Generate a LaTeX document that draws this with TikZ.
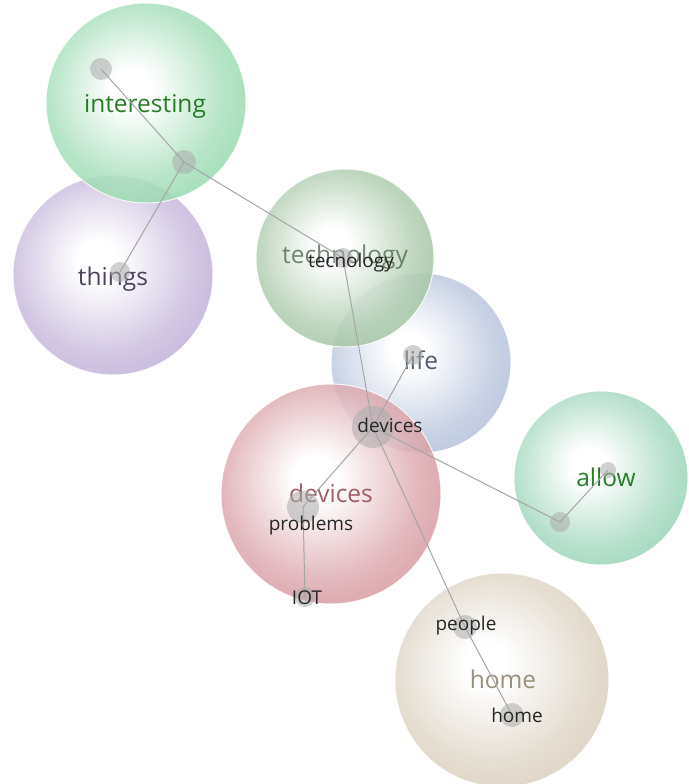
\documentclass[tikz,border=0pt]{standalone}
\usepackage{fontspec}
\setmainfont{Open Sans}
\definecolor{cInt}{HTML}{72CC92}
\definecolor{cThi}{HTML}{AA94CA}
\definecolor{cTec}{HTML}{82B082}
\definecolor{cLif}{HTML}{98AACE}
\definecolor{cDev}{HTML}{C8767F}
\definecolor{cAll}{HTML}{74C49E}
\definecolor{cHom}{HTML}{CDBEA6}
\colorlet{cIntM}{cInt!60!white}
\colorlet{cThiM}{cThi!60!white}
\colorlet{cTecM}{cTec!60!white}
\colorlet{cLifM}{cLif!60!white}
\colorlet{cDevM}{cDev!60!white}
\colorlet{cAllM}{cAll!60!white}
\colorlet{cHomM}{cHom!60!white}
\colorlet{cIntE}{cInt!92!black}
\colorlet{cThiE}{cThi!92!black}
\colorlet{cTecE}{cTec!92!black}
\colorlet{cLifE}{cLif!92!black}
\colorlet{cDevE}{cDev!92!black}
\colorlet{cAllE}{cAll!92!black}
\colorlet{cHomE}{cHom!92!black}
\newcommand\mksph[1]{%
  \pgfdeclareradialshading{sph#1}{\pgfpoint{-4bp}{4bp}}{color(0bp)=(white); color(5bp)=(white); color(22bp)=(#1M); color(41bp)=(#1); color(51bp)=(#1E); color(60bp)=(#1E)}}
\mksph{cInt}\mksph{cThi}\mksph{cTec}\mksph{cLif}\mksph{cDev}\mksph{cAll}\mksph{cHom}
\tikzset{
  sphere/.style={shading=sph#1, opacity=0.86, draw=white, line width=1pt},
  biglabel/.style={font=\fontsize{24.5}{26}\selectfont, inner sep=0pt, anchor=base},
  smalllabel/.style={font=\fontsize{19}{21}\selectfont, inner sep=0pt, anchor=base, text=black!85},
  dotnode/.style={circle, fill=gray!65, fill opacity=0.55, draw=none, inner sep=0pt, minimum size=#1},
  link/.style={draw=gray!70, line width=1pt},
}
\begin{document}
\begin{tikzpicture}[x=1pt,y=-1pt]
\useasboundingbox (0,0) rectangle (688,784);
% spheres
\shade[sphere=cThi] (113,275) circle (100pt);
\shade[sphere=cInt] (146,103) circle (100pt);
\shade[sphere=cLif] (421,363) circle (90pt);
\shade[sphere=cTec] (345,258) circle (89pt);
\shade[sphere=cDev] (331,494) circle (110pt);
\shade[sphere=cAll] (601,478) circle (87pt);
\shade[sphere=cHom] (502,680) circle (107pt);
% big labels
\node[biglabel, text=green!40!black!85!white] (Linteresting) at (145,112) {interesting};
\node[biglabel, text=cThi!45!black] (Lthings) at (113,285) {things};
\node[biglabel, text=cTec!55!black, opacity=0.75] (Ltechnology) at (345,263) {technology};
\node[biglabel, text=cLif!55!black] (Llife) at (421,369) {life};
\node[biglabel, text=cDev!80!black] (Ldevices) at (331,502) {devices};
\node[biglabel, text=green!40!black!85!white] (Lallow) at (606,486) {allow};
\node[biglabel, text=cHom!75!black] (Lhome) at (503,688) {home};
% dots
\node[dotnode=22pt] (d1) at (101,69) {};
\node[dotnode=24pt] (d2) at (184,162) {};
\node[dotnode=20pt] (d3) at (120,272) {};
\node[dotnode=20pt] (d4) at (343,258) {};
\node[dotnode=20pt] (d5) at (413,355) {};
\node[dotnode=42pt] (d6) at (373,427) {};
\node[dotnode=32pt] (d7) at (303,507) {};
\node[dotnode=20pt] (d8) at (305,597) {};
\node[dotnode=20pt] (d9) at (560,522) {};
\node[dotnode=16pt] (d10) at (608,470) {};
\node[dotnode=24pt] (d11) at (465,627) {};
\node[dotnode=24pt] (d12) at (512,715) {};
% links
\draw[link] (d1.center) -- (d2.center);
\draw[link] (d2.center) -- (d3.center);
\draw[link] (d2.center) -- (d4.center);
\draw[link] (d4.center) -- (d6.center);
\draw[link] (d6.center) -- (d5.center);
\draw[link] (d6.center) -- (d7.center);
\draw[link] (d7.center) -- (d8.center);
\draw[link] (d6.center) -- (d9.center);
\draw[link] (d9.center) -- (d10.center);
\draw[link] (d6.center) -- (d11.center);
\draw[link] (d11.center) -- (d12.center);
% small labels
\node[smalllabel] (Stecnology) at (351,267) {tecnology};
\node[smalllabel] (Sdevices) at (390,432) {devices};
\node[smalllabel] (Sproblems) at (311,530) {problems};
\node[smalllabel] (SIOT) at (307,604) {IOT};
\node[smalllabel] (Speople) at (466,630) {people};
\node[smalllabel] (Shome) at (517,722) {home};
\end{tikzpicture}
\end{document}
